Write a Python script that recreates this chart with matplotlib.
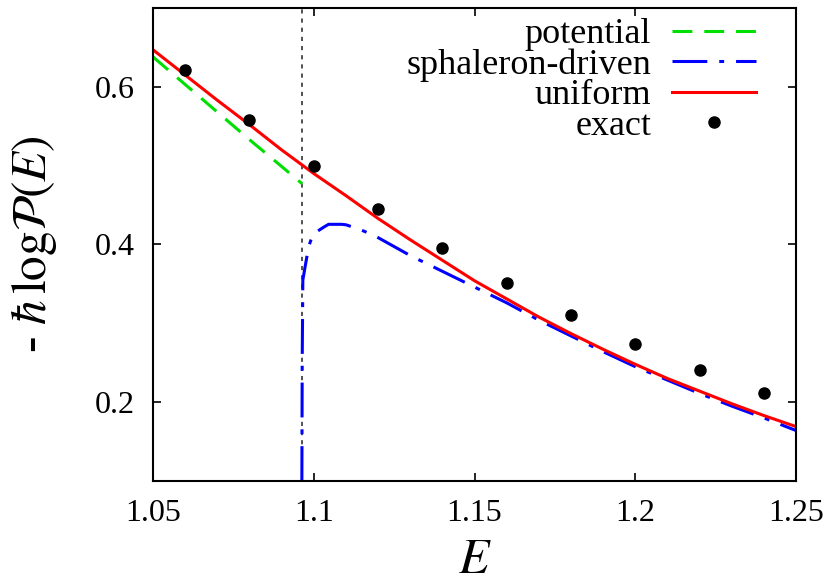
import matplotlib
matplotlib.use('Agg')
import matplotlib.pyplot as plt

plt.rcParams['font.family'] = ['Liberation Serif', 'DejaVu Serif']
plt.rcParams['mathtext.fontset'] = 'stix'

# exact values
E_exact = [1.06, 1.08, 1.10, 1.12, 1.14, 1.16, 1.18, 1.20, 1.22, 1.24]
P_exact = [0.622, 0.558, 0.500, 0.445, 0.396, 0.351, 0.311, 0.274, 0.241, 0.211]

# uniform approximation
E_uni = [1.05, 1.06, 1.07, 1.08, 1.09, 1.10, 1.11, 1.12, 1.13, 1.14, 1.15,
         1.16, 1.17, 1.18, 1.19, 1.20, 1.21, 1.22, 1.23, 1.24, 1.25]
P_uni = [0.647, 0.615, 0.583, 0.552, 0.520, 0.490, 0.462, 0.433, 0.406, 0.380, 0.354,
         0.331, 0.308, 0.287, 0.267, 0.248, 0.230, 0.214, 0.198, 0.183, 0.169]

# potential (below threshold)
E_pot = [1.05, 1.06, 1.07, 1.08, 1.09, 1.0964]
P_pot = [0.638, 0.603, 0.568, 0.533, 0.499, 0.477]

# sphaleron-driven (above threshold)
E_sph = [1.0963, 1.0964, 1.0966, 1.0974, 1.0984, 1.0997, 1.1031, 1.1046, 1.1087,
         1.11, 1.1143, 1.119, 1.13, 1.14, 1.15, 1.16, 1.17, 1.18, 1.19, 1.20,
         1.21, 1.22, 1.23, 1.24, 1.25]
P_sph = [0.10, 0.25, 0.355, 0.374, 0.397, 0.413, 0.422, 0.4256, 0.4256,
         0.425, 0.4192, 0.411, 0.386, 0.366, 0.346, 0.326, 0.304, 0.284, 0.264, 0.245,
         0.228, 0.211, 0.195, 0.180, 0.164]

E_thr = 1.0964

fig = plt.figure(figsize=(8.28, 5.73), dpi=100)
ax = fig.add_axes([0.1848, 0.1606, 0.7766, 0.8254])

ax.axvline(E_thr, color='#333333', lw=1.2, ls=(0, (2.5, 3)), zorder=1)

lw = 2.2
ax.plot(E_pot, P_pot, color='#00e000', lw=lw, dashes=(6.5, 3.9), label='potential')
ax.plot(E_sph, P_sph, color='#0000ff', lw=lw, dashes=(11.4, 3.9, 1.6, 3.9),
        label='sphaleron-driven')
ax.plot(E_uni, P_uni, color='#ff0000', lw=lw, label='uniform')
ax.plot(E_exact, P_exact, 'o', color='black', ms=8, label='exact')

ax.set_xlim(1.05, 1.25)
ax.set_ylim(0.1, 0.7)
ax.set_xticks([1.05, 1.1, 1.15, 1.2, 1.25])
ax.set_xticklabels(['1.05', '1.1', '1.15', '1.2', '1.25'])
ax.set_yticks([0.2, 0.4, 0.6])
ax.set_yticklabels(['0.2', '0.4', '0.6'])
ax.tick_params(direction='in', length=6, width=1.2, top=True, right=True,
               labelsize=23, pad=13)
for s in ax.spines.values():
    s.set_linewidth(1.5)

ax.set_xlabel('$E$', fontsize=36, va='center')
ax.xaxis.set_label_coords(0.5, -0.168)
ax.set_ylabel(r'- $\hbar\,\mathrm{log}\mathcal{P}(E)$', fontsize=35.5, va='center')
ax.yaxis.set_label_coords(-0.185, 0.50)

ax.legend(loc='upper right', bbox_to_anchor=(0.972, 1.025), frameon=False,
          markerfirst=False, fontsize=26, handlelength=2.33, labelspacing=-0.08,
          handletextpad=0.58, borderaxespad=0.2)

fig.savefig('out.png', dpi=100)
